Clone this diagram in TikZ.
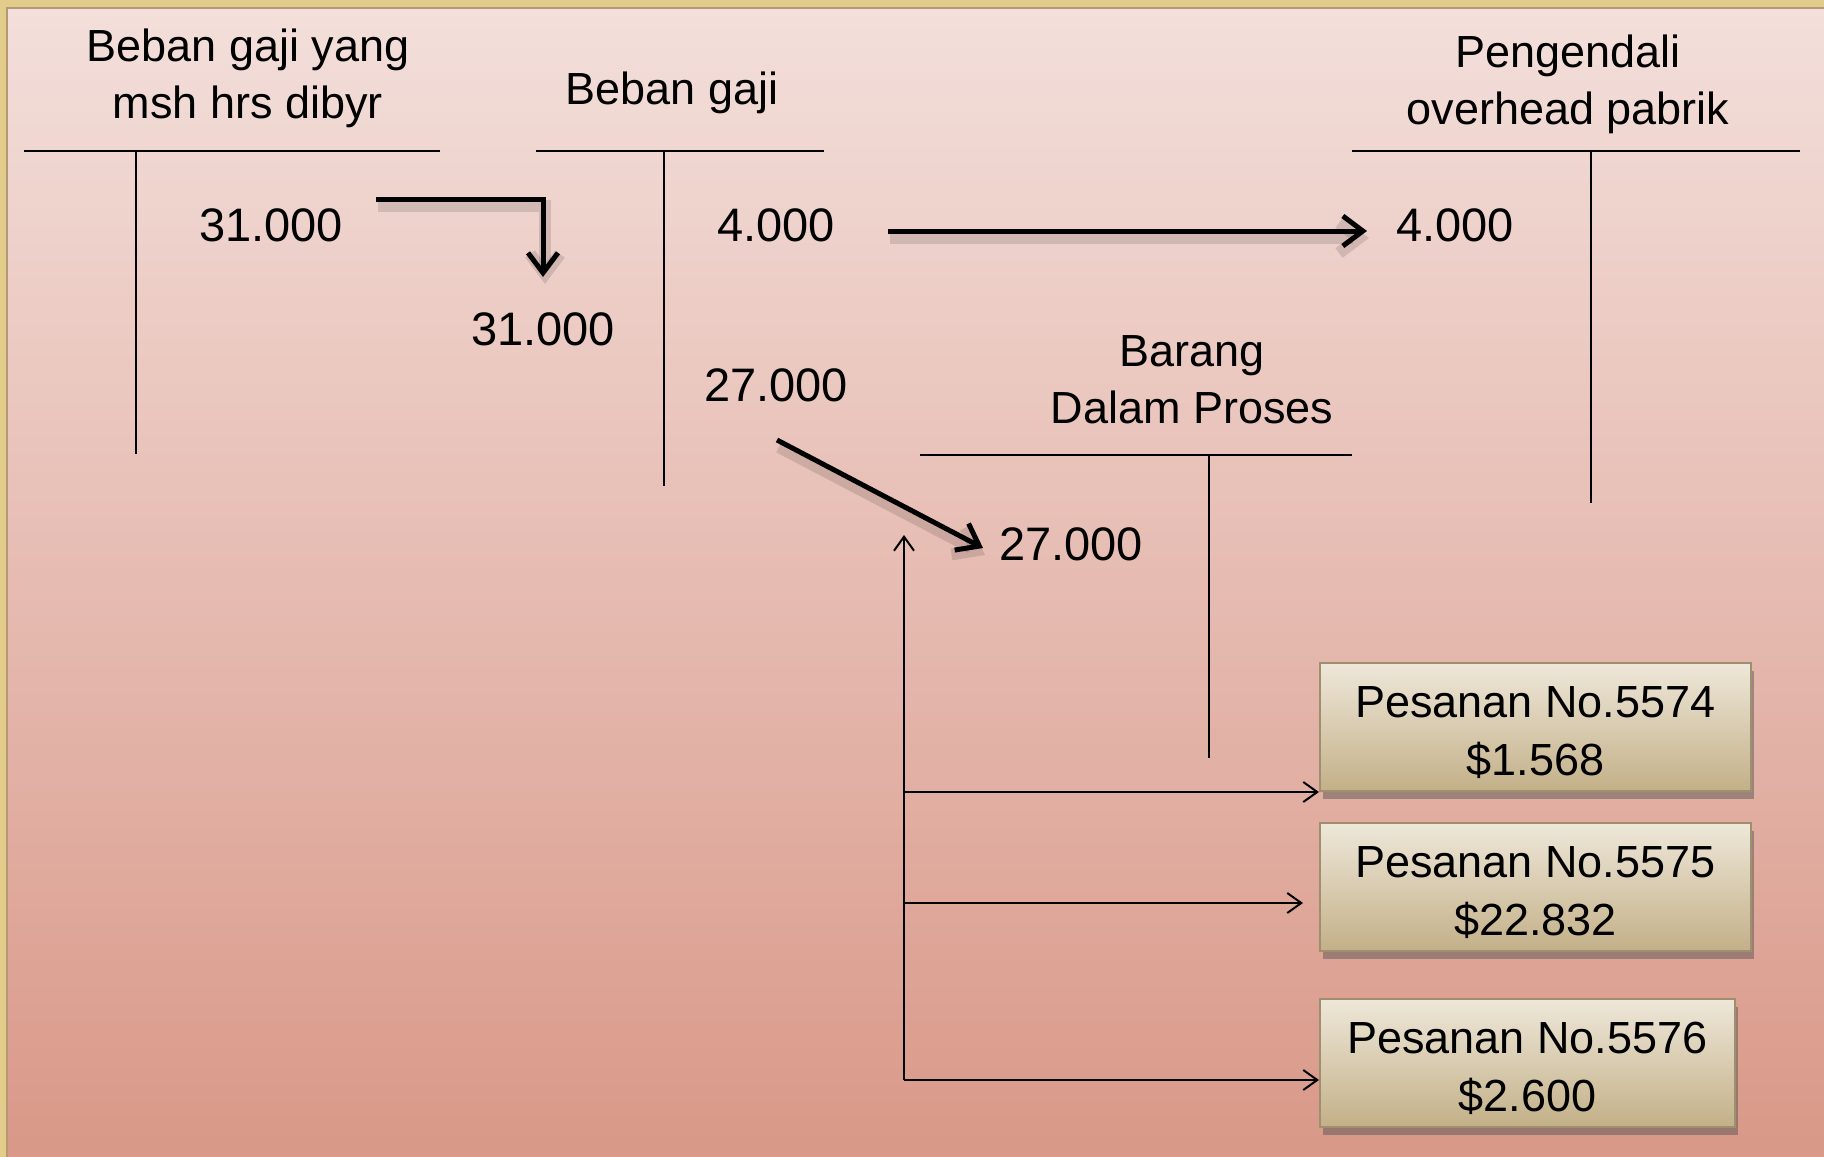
\documentclass[tikz,border=0pt]{standalone}
\usepackage{fontspec}
\setmainfont{Liberation Sans}
\usetikzlibrary{arrows.meta,shadows}
\definecolor{gold}{RGB}{226,204,138}
\definecolor{goldline}{RGB}{184,150,120}
\definecolor{bgtop}{RGB}{243,223,219}
\definecolor{bgbot}{RGB}{217,152,136}
\definecolor{boxtop}{RGB}{238,231,217}
\definecolor{boxbot}{RGB}{195,176,136}
\definecolor{boxline}{RGB}{158,144,110}
\newcommand{\lowstrut}{\rule{0pt}{43pt}}
\begin{document}
\begin{tikzpicture}[x=1pt,y=-1pt,
  every node/.style={inner sep=0pt,font=\fontsize{45}{57}\selectfont},
  numtxt/.style={font=\fontsize{47}{57}\selectfont},
  lbl/.style={align=center},
  acct/.style={line width=2pt},
  bigarrow/.style={line width=5pt,-{Straight Barb[length=20pt,width=30pt]},
    preaction={draw=black,opacity=.12,line width=12pt,transform canvas={xshift=2pt,yshift=-7pt}}},
  thinarrow/.style={line width=2pt,-{Straight Barb[length=14pt,width=20pt]}},
  jobbox/.style={draw=boxline,line width=2pt,top color=boxtop,bottom color=boxbot,
    minimum height=128pt,align=center,font=\fontsize{45}{58}\selectfont,
    drop shadow={shadow xshift=3pt,shadow yshift=-8pt,opacity=.45,fill=black!70}}]
\useasboundingbox (0,0) rectangle (1824,1157);
% background
\fill[gold] (0,0) rectangle (1824,1157);
\shade[top color=bgtop,bottom color=bgbot] (7,8) rectangle (1824,1157);
\draw[goldline,line width=1.5pt] (7,1157) -- (7,8) -- (1824,8);
% account 1
\node[lbl] (t1) at (248,78) {Beban gaji yang\\msh hrs dibyr};
\coordinate (h1a) at (24,151); \coordinate (h1b) at (440,151);
\coordinate (v1a) at (136,151); \coordinate (v1b) at (136,454);
\draw[acct] (h1a) -- (h1b); \draw[acct] (v1a) -- (v1b);
\node[numtxt] (n1) at (271,225) {31.000};
% account 2
\node[lbl] (t2) at (672,93) {Beban gaji};
\coordinate (h2a) at (536,151); \coordinate (h2b) at (824,151);
\coordinate (v2a) at (664,151); \coordinate (v2b) at (664,486);
\draw[acct] (h2a) -- (h2b); \draw[acct] (v2a) -- (v2b);
\node[numtxt] (n2) at (543,329) {31.000};
\node[numtxt] (n3) at (776,225) {4.000};
\node[numtxt] (n4) at (776,385) {27.000};
% account 3
\node[lbl] (t3) at (1568,84) {Pengendali\\overhead pabrik};
\coordinate (h3a) at (1352,151); \coordinate (h3b) at (1800,151);
\coordinate (v3a) at (1591,151); \coordinate (v3b) at (1591,503);
\draw[acct] (h3a) -- (h3b); \draw[acct] (v3a) -- (v3b);
\node[numtxt] (n5) at (1455,225) {4.000};
% account 4
\node[lbl] (t4) at (1192,380) {Barang\\Dalam Proses};
\coordinate (h4a) at (920,455); \coordinate (h4b) at (1352,455);
\coordinate (v4a) at (1209,455); \coordinate (v4b) at (1209,758);
\draw[acct] (h4a) -- (h4b); \draw[acct] (v4a) -- (v4b);
\node[numtxt] (n6) at (1071,544) {27.000};
% thick arrows
\coordinate (s1) at (376,199); \coordinate (e1) at (543,277);
\draw[bigarrow] (s1) -| (e1);
\coordinate (s2) at (888,231); \coordinate (e2) at (1367,231);
\draw[bigarrow] (s2) -- (e2);
\coordinate (s3) at (777,440); \coordinate (e3) at (983,548);
\draw[bigarrow] (s3) -- (e3);
% job boxes
\node[jobbox,minimum width=431pt] (b1) at (1535.5,727) {\lowstrut Pesanan No.5574\\\$1.568};
\node[jobbox,minimum width=431pt] (b2) at (1535.5,887) {\lowstrut Pesanan No.5575\\\$22.832};
\node[jobbox,minimum width=415pt] (b3) at (1527.5,1063) {\lowstrut Pesanan No.5576\\\$2.600};
% thin arrows
\coordinate (vb) at (904,1080); \coordinate (vt) at (904,535);
\draw[thinarrow] (vb) -- (vt);
\coordinate (j1) at (904,792); \coordinate (j2) at (904,903); \coordinate (j3) at (904,1080);
\draw[thinarrow] (j1) -- (j1 -| b1.west);
\draw[thinarrow,shorten >=16pt] (j2) -- (j2 -| b2.west);
\draw[thinarrow] (j3) -- (j3 -| b3.west);
\end{tikzpicture}
\end{document}
